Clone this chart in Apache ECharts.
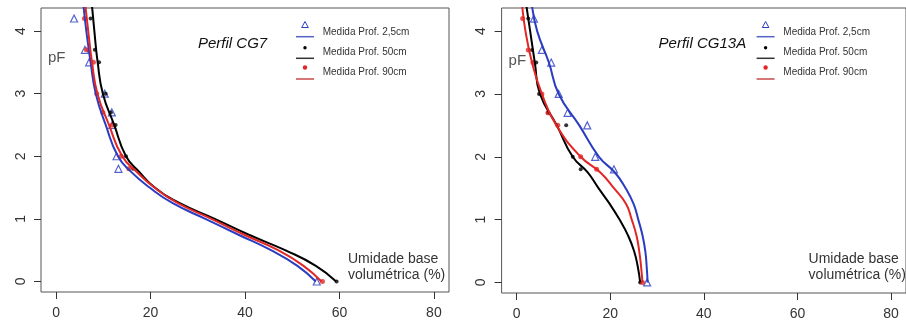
<!DOCTYPE html>
<html>
<head>
<meta charset="utf-8">
<script src="https://cdn.jsdelivr.net/npm/echarts@6/dist/echarts.min.js"></script>
<style>
html,body{margin:0;padding:0;background:#fff;}
#c{width:906px;height:322px;}
</style>
</head>
<body>
<div id="c"></div>
<script>
// ---- tick labels ----
const xTicks = [0, 20, 40, 60, 80];
const yTicks = [0, 1, 2, 3, 4];

// ---- measured points (pF levels) ----
const pfMeasured = [4.2, 3.7, 3.5, 3.0, 2.7, 2.5, 2.0, 1.8, 0];
// Perfil CG7
const cg7Meas25 = [3.8, 6.1, 7.0, 10.3, 11.8, 11.9, 12.8, 13.2, 55.2];
const cg7Meas50 = [7.3, 8.2, 9.1, 10.5, 11.6, 12.6, 14.8, 16.3, 59.4];
const cg7Meas90 = [6.0, 6.4, 7.9, 8.6, 9.9, 11.9, 13.8, 15.4, 56.4];
// Perfil CG13A
const cg13Meas25 = [3.7, 5.4, 7.4, 9.0, 10.9, 15.1, 16.8, 20.8, 27.9];
const cg13Meas50 = [2.5, 3.3, 4.2, 4.8, 6.7, 10.6, 12.0, 13.7, 26.4];
const cg13Meas90 = [1.3, 2.5, 3.5, 5.4, 6.7, 8.8, 13.7, 17.1, 26.9];

// ---- fitted curves (pF levels) ----
const pfCurve = [4.4, 4.0, 3.5, 3.0, 2.5, 2.0, 1.75, 1.5, 1.25, 1.0, 0.75, 0.5, 0.25, 0];
const cg7Curve25 = [5.8, 6.4, 7.3, 8.4, 10.5, 13.1, 15.9, 19.8, 24.7, 31.6, 38.5, 45.5, 51.1, 55.0];
const cg7Curve50 = [7.6, 8.1, 8.8, 9.9, 12.3, 14.8, 17.6, 20.9, 26.2, 33.6, 40.7, 48.5, 55.0, 59.3];
const cg7Curve90 = [6.2, 6.8, 7.6, 8.75, 11.2, 14.0, 17.1, 20.8, 25.8, 32.9, 39.7, 47.0, 52.4, 56.2];
const cg13Curve25 = [3.3, 4.4, 6.9, 9.0, 13.4, 17.6, 21.0, 23.3, 25.0, 26.0, 26.9, 27.5, 27.8, 28.0];
const cg13Curve50 = [2.1, 2.9, 3.9, 5.0, 8.6, 12.0, 15.2, 17.5, 19.9, 22.0, 23.8, 25.1, 25.9, 26.4];
const cg13Curve90 = [1.2, 1.9, 3.3, 5.4, 8.5, 13.7, 17.9, 20.8, 23.4, 24.6, 25.6, 26.2, 26.6, 26.9];

const titles = ['Perfil CG7', 'Perfil CG13A'];
const legendLabels = ['Medida Prof. 2,5cm', 'Medida Prof. 50cm', 'Medida Prof. 90cm'];

const BLUE = '#2a3cc0', RED = '#e22626', BLACK = '#000000';
const FONT = 'Liberation Sans, Arial, sans-serif';

function zip(xs, ys) { return xs.map((x, i) => [x, ys[i]]); }

const grids = [
  {left: 41, top: 8, width: 408, height: 284},
  {left: 501.6, top: 8, width: 408.7, height: 285}
];

function xAxisCfg(gi) {
  return {
    type: 'value', gridIndex: gi, min: -3.2, max: 83.2, position: 'bottom',
    axisLine: {show: false, onZero: false},
    splitLine: {show: false},
    axisTick: {show: true, length: 7, customValues: xTicks, lineStyle: {color: '#333'}},
    axisLabel: {customValues: xTicks, margin: 14, fontSize: 14, color: '#333', fontFamily: FONT}
  };
}
function yAxisCfg(gi) {
  return {
    type: 'value', gridIndex: gi, min: -0.168, max: 4.368, position: 'left',
    axisLine: {show: false, onZero: false},
    splitLine: {show: false},
    axisTick: {show: true, length: 7, customValues: yTicks, lineStyle: {color: '#333'}},
    axisLabel: {customValues: yTicks, rotate: 90, margin: 13, fontSize: 14, color: '#333', fontFamily: FONT}
  };
}

const panels = [
  {m: [cg7Meas25, cg7Meas50, cg7Meas90], c: [cg7Curve25, cg7Curve50, cg7Curve90]},
  {m: [cg13Meas25, cg13Meas50, cg13Meas90], c: [cg13Curve25, cg13Curve50, cg13Curve90]}
];
const colors = [BLUE, BLACK, RED];

const series = [];
panels.forEach((p, gi) => {
  p.c.forEach((vals, k) => {
    series.push({
      type: 'line', xAxisIndex: gi, yAxisIndex: gi, name: legendLabels[k],
      data: zip(vals, pfCurve), showSymbol: false, smooth: true,
      lineStyle: {color: colors[k], width: 2}, silent: true, animation: false
    });
  });
  p.m.forEach((vals, k) => {
    const s = {
      type: 'scatter', xAxisIndex: gi, yAxisIndex: gi, name: legendLabels[k],
      data: zip(vals, pfMeasured), animation: false, silent: true
    };
    if (k === 0) {
      s.symbol = 'triangle'; s.symbolSize = 7;
      s.itemStyle = {color: 'rgba(0,0,0,0)', borderColor: BLUE, borderWidth: 1.2};
    } else if (k === 1) {
      s.symbol = 'circle'; s.symbolSize = 4;
      s.itemStyle = {color: BLACK};
    } else {
      s.symbol = 'circle'; s.symbolSize = 5;
      s.itemStyle = {color: RED};
    }
    series.push(s);
  });
});

// ---- annotations and legends ----
const graphic = [];
grids.forEach((g, gi) => {
  const L = g.left;
  graphic.push({type: 'text', left: L + 157, top: 36,
    style: {text: titles[gi], font: 'italic 15px ' + FONT, fill: '#111'}});
  graphic.push({type: 'text', left: L + 7, top: gi === 0 ? 50 : 53,
    style: {text: 'pF', font: '15px ' + FONT, fill: '#555'}});
  graphic.push({type: 'text', left: L + 307, top: 251,
    style: {text: 'Umidade base\nvolumétrica (%)', font: '14px ' + FONT, fill: '#333', lineHeight: 16}});
  // legend
  const x0 = L + 255;
  const symY = [25, 47.7, 67.5], lineY = [36.7, 58.3, 79], textY = [32.3, 52.3, 72.3];
  const lineCols = ['#5563c4', '#333333', '#c84a4a'];
  for (let k = 0; k < 3; k++) {
    graphic.push({type: 'line', shape: {x1: x0, y1: lineY[k], x2: x0 + 18, y2: lineY[k]},
      style: {stroke: lineCols[k], lineWidth: 1.5}});
    const cx = x0 + 9;
    if (k === 0) {
      graphic.push({type: 'polygon', shape: {points: [[cx, symY[k] - 3.5], [cx - 3.3, symY[k] + 2.5], [cx + 3.3, symY[k] + 2.5]]},
        style: {fill: 'none', stroke: BLUE, lineWidth: 1}});
    } else {
      graphic.push({type: 'circle', shape: {cx: cx, cy: symY[k], r: k === 1 ? 1.7 : 2.2},
        style: {fill: k === 1 ? BLACK : RED}});
    }
    graphic.push({type: 'text', x: x0 + 26.7, y: textY[k],
      style: {text: legendLabels[k], font: '10px ' + FONT, fill: '#333', verticalAlign: 'middle'}});
  }
});

const chart = echarts.init(document.getElementById('c'), null, {renderer: 'canvas'});
chart.setOption({
  backgroundColor: '#ffffff',
  animation: false,
  grid: grids.map(g => Object.assign({show: true, borderColor: '#555', borderWidth: 1, backgroundColor: 'rgba(0,0,0,0)', containLabel: false}, g)),
  xAxis: [xAxisCfg(0), xAxisCfg(1)],
  yAxis: [yAxisCfg(0), yAxisCfg(1)],
  series: series,
  graphic: graphic
});
</script>
</body>
</html>
